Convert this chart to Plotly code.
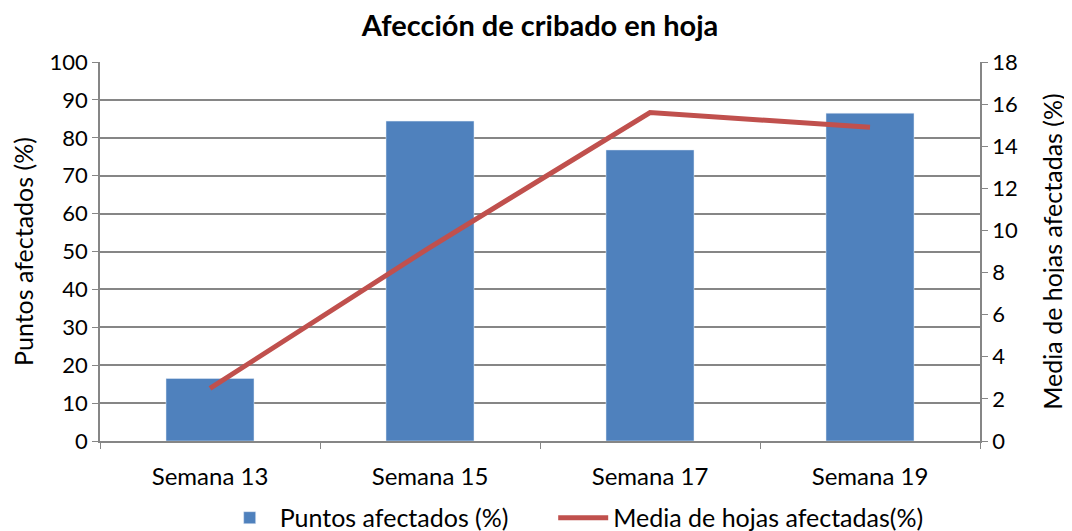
import plotly.graph_objects as go

categories = ["Semana 13", "Semana 15", "Semana 17", "Semana 19"]
puntos_afectados = [16.5, 84.4, 76.8, 86.5]
media_hojas = [2.5, 9.2, 15.6, 14.9]

blue = "#4F81BD"
red = "#C0504D"
grid = "#868686"
font_family = "Lato, 'Open Sans', sans-serif"

fig = go.Figure()
fig.add_trace(go.Bar(
    x=categories, y=puntos_afectados, name="Puntos afectados (%)",
    marker=dict(color=blue), width=0.4, yaxis="y", legend="legend", showlegend=True,
))
fig.add_trace(go.Scatter(
    x=categories, y=media_hojas, name="Media de hojas afectadas(%)",
    mode="lines", line=dict(color=red, width=5), yaxis="y2", legend="legend2",
    showlegend=True,
))

legend_common = dict(orientation="h", xanchor="left", y=-0.203, yanchor="middle",
                     font=dict(size=25), itemwidth=50, bgcolor="rgba(0,0,0,0)")

# page body has an 8px margin, so the figure is sized to fit the window
fig.update_layout(
    width=1064, height=523,
    showlegend=True,
    margin=dict(l=92, r=92, t=54, b=90, autoexpand=False),
    paper_bgcolor="white", plot_bgcolor="white",
    font=dict(family=font_family, size=22, color="black"),
    title=dict(text="<b>Afección de cribado en hoja</b>", x=0.5, xanchor="center",
               y=0.966, yanchor="middle", font=dict(size=29, family=font_family)),
    xaxis=dict(
        automargin=False,
        showline=True, linecolor=grid, linewidth=1.5,
        ticks="outside", tickson="boundaries", ticklen=6, tickcolor=grid,
        tickfont=dict(size=24), ticklabelstandoff=13,
    ),
    yaxis=dict(
        automargin=False,
        range=[0, 100], dtick=10, showgrid=True, gridcolor=grid, gridwidth=1.5,
        showline=True, linecolor=grid, linewidth=1.5,
        ticks="outside", ticklen=6, tickcolor=grid,
        title=dict(text="Puntos afectados (%)", font=dict(size=25), standoff=13),
        tickfont=dict(size=22), zeroline=False,
    ),
    yaxis2=dict(
        automargin=False,
        range=[0, 18], dtick=2, overlaying="y", side="right", showgrid=False,
        showline=True, linecolor=grid, linewidth=1.5,
        ticks="outside", ticklen=6, tickcolor=grid,
        title=dict(text="Media de hojas afectadas (%)", font=dict(size=25), standoff=28),
        tickfont=dict(size=22), zeroline=False,
    ),
    legend=dict(x=0.136, **legend_common),
    legend2=dict(x=0.515, **legend_common),
    bargap=0.6,
)

fig.write_html("out.html")
